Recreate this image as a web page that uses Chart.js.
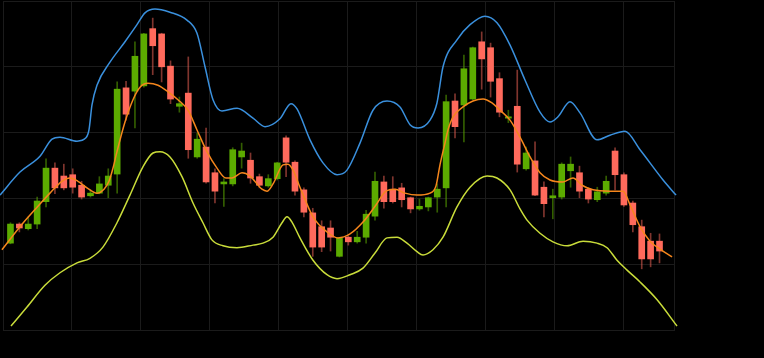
<!DOCTYPE html>
<html>
<head>
<meta charset="utf-8">
<script src="https://cdn.jsdelivr.net/npm/chart.js@4.4.1/dist/chart.umd.min.js"></script>
<style>
  html, body { margin: 0; padding: 0; background: #000; }
</style>
</head>
<body>
<canvas id="chart" width="764" height="358"></canvas>
<script>
// candles, one per trading day (x = 1, 2, 3 ...)
const opens = [113.2,116.1,115.4,116.1,119.5,124.6,123.4,123.6,122.0,120.4,
  120.8,122.0,123.7,136.8,136.3,137.1,145.8,145.0,140.1,134.0,
  136.0,126.3,127.8,123.9,122.2,122.2,126.3,125.8,123.3,121.9,
  123.0,129.2,125.5,121.3,117.8,115.7,115.5,111.2,114.1,113.4,
  114.1,117.3,122.5,121.4,121.6,120.1,118.4,118.7,120.2,121.6,
  134.8,134.2,135.1,143.8,142.9,138.2,132.2,134.0,124.5,125.7,
  121.7,120.1,120.2,124.2,123.9,121.4,119.8,120.8,127.2,123.6,
  119.3,115.7,113.5,113.5];
const highs = [116.3,116.3,117.2,120.2,126.0,125.4,125.2,124.5,122.6,121.3,
  123.3,124.5,137.7,137.8,143.8,145.1,147.4,145.1,140.9,135.4,
  141.5,129.9,130.7,124.5,123.0,127.7,128.4,126.9,123.7,123.6,
  125.5,129.5,125.7,121.6,118.5,116.6,116.6,114.1,114.3,115.0,
  118.2,124.0,123.4,123.3,122.3,120.2,119.9,120.2,122.2,135.7,
  135.9,141.8,143.0,145.3,143.6,139.1,133.4,139.5,127.8,128.6,
  122.5,121.4,125.4,126.3,124.9,121.6,121.7,123.4,127.7,123.9,
  119.6,116.7,114.7,114.6];
const lows = [113.1,114.9,115.2,115.4,118.7,120.7,121.3,120.8,119.9,120.2,
  120.7,120.1,120.8,131.9,130.7,136.9,138.8,137.7,134.4,133.1,
  126.1,126.1,122.3,119.3,118.8,121.9,124.6,122.3,121.6,121.7,
  122.8,123.3,120.5,117.2,111.2,111.9,112.0,111.1,112.9,113.2,
  113.2,116.7,118.5,119.3,118.7,117.8,118.2,118.1,117.9,118.7,
  129.2,128.6,135.0,136.6,135.4,132.4,131.5,124.0,124.3,120.4,
  117.2,116.9,119.9,121.7,120.1,119.3,119.5,120.5,121.3,118.8,
  114.9,109.3,109.6,110.2];
const closes = [116.1,115.5,116.1,119.6,124.6,121.6,121.6,121.7,120.2,120.8,
  122.2,123.4,136.6,132.8,141.6,145.0,143.2,140.0,135.1,134.4,
  127.4,129.0,122.5,121.1,122.5,127.4,127.2,123.1,122.0,123.0,
  125.4,125.5,121.1,117.9,112.6,112.6,114.1,114.0,113.4,114.1,
  117.6,122.6,119.5,119.5,119.8,118.4,118.8,120.1,121.4,134.7,
  130.9,139.7,142.9,141.2,137.8,133.1,132.4,125.2,126.9,120.5,
  119.2,120.4,125.2,125.2,121.1,119.9,121.0,122.6,123.6,119.0,
  116.0,110.8,110.8,112.0];

// bands (x in days)
const upperX = [-0.18,2.07,4.32,5.67,6.57,8.48,9.49,9.83,10.17,10.73,12.19,13.88,15.23,16.13,17.25,18.94,
  20.85,21.98,22.88,23.78,24.79,26.48,28.28,29.63,31.31,32.55,33.23,34.69,36.15,37.73,38.85,40.31,
  41.77,43.35,44.81,45.94,46.84,48.19,48.97,49.65,51.22,52.69,54.37,55.72,57.19,58.87,60.56,61.68,
  62.58,63.93,65.06,66.97,68.43,70.12,71.81,74.40,75.86];
const upperY = [120.5,124.0,126.4,129.0,129.3,128.7,129.2,130.4,134.2,137.2,140.7,143.8,146.4,148.2,148.8,148.3,
  147.1,145.1,140.0,135.0,133.3,133.7,132.2,130.9,132.1,134.4,133.6,128.9,125.4,123.6,124.3,128.4,
  133.4,134.8,133.9,131.2,130.7,131.9,134.5,140.0,144.1,146.4,147.7,146.7,143.3,138.0,133.1,131.6,
  132.4,134.7,133.0,128.9,129.6,130.2,127.4,122.8,120.5];

const middleX = [0.04,2.07,4.09,5.44,6.79,7.69,8.59,9.61,10.73,11.52,12.08,12.53,12.98,13.88,14.78,15.57,
  16.47,17.59,18.72,19.84,20.97,21.98,23.10,24.23,25.24,25.92,27.04,27.94,29.29,29.85,30.53,31.65,
  32.21,32.78,33.56,35.03,36.60,37.84,39.19,40.65,42.11,43.24,44.25,45.37,46.72,48.19,48.86,49.31,
  49.87,50.21,50.78,51.90,53.02,54.15,55.16,56.06,57.19,58.31,59.44,60.56,61.68,63.15,64.27,65.29,
  66.52,68.43,69.90,70.69,71.81,72.93,74.06,75.41];
const middleY = [112.2,115.7,118.8,120.8,122.6,123.1,122.6,121.6,120.8,121.4,122.6,124.6,127.1,131.6,135.0,136.9,
  137.5,137.2,136.2,135.0,133.4,130.4,127.1,124.6,123.1,123.1,123.9,123.4,121.4,121.1,122.2,125.1,
  125.2,124.3,121.7,117.2,114.9,114.0,114.6,116.4,119.0,121.1,121.4,120.8,120.5,120.8,121.9,125.1,
  128.4,130.4,132.4,133.9,134.8,135.1,134.5,133.4,131.9,129.3,126.3,123.9,122.8,122.5,123.1,122.0,
  121.3,121.1,121.1,119.0,115.7,113.5,112.3,111.1];

const lowerX = [1.06,2.86,4.88,6.57,8.48,9.94,11.40,12.98,14.44,15.90,17.03,17.82,18.94,20.29,21.53,22.65,
  23.66,24.90,26.48,28.28,29.40,30.53,31.54,32.10,32.66,33.56,35.03,36.60,37.73,39.19,40.65,42.00,
  43.35,44.48,45.60,46.72,47.40,48.52,49.65,51.22,52.69,54.60,55.72,57.19,58.31,59.10,60.56,62.02,
  63.60,65.40,66.97,68.10,69.22,70.35,71.81,73.73,75.97];
const lowerY = [100.6,103.5,106.8,108.7,110.2,110.9,112.6,116.3,120.5,124.8,126.9,127.1,126.3,123.3,119.3,116.3,
  113.7,112.8,112.5,112.9,113.2,114.1,116.3,117.2,116.4,114.0,110.6,108.4,107.8,108.4,109.4,111.7,
  114.0,114.1,113.2,111.9,111.4,112.2,114.1,118.7,121.7,123.4,123.1,121.3,118.4,116.7,114.7,113.4,
  112.8,113.5,113.2,112.5,110.6,109.1,107.3,104.6,100.6];

const GREEN = "#5cab00", RED = "#ff6a5c";
const days = opens.map((o, i) => i + 1);
const isUp = opens.map((o, i) => closes[i] >= o);

function line(xs, ys, color){
  return {
    type: "line",
    data: xs.map((x, i) => ({ x: x, y: ys[i] })),
    borderColor: color,
    borderWidth: 1.5,
    pointRadius: 0,
    cubicInterpolationMode: "monotone",
    clip: false,
    order: 0
  };
}

new Chart(document.getElementById("chart"), {
  type: "bar",
  data: {
    datasets: [
      {
        // wicks
        data: days.map((d, i) => ({ x: d, y: [lows[i], highs[i]] })),
        backgroundColor: isUp.map(u => u ? "rgba(92,171,0,0.55)" : "rgba(255,106,92,0.5)"),
        barThickness: 1,
        grouped: false,
        order: 3
      },
      {
        // bodies
        data: days.map((d, i) => ({ x: d, y: [opens[i], closes[i]] })),
        backgroundColor: isUp.map(u => u ? GREEN : RED),
        barThickness: 6,
        minBarLength: 1,
        grouped: false,
        order: 2
      },
      line(upperX, upperY, "#3a90dd"),
      line(middleX, middleY, "#f5861c"),
      line(lowerX, lowerY, "#c9dc3a")
    ]
  },
  options: {
    responsive: false,
    animation: false,
    layout: { padding: { left: 3, top: 1, right: 90, bottom: 28 } },
    plugins: { legend: { display: false }, tooltip: { enabled: false } },
    scales: {
      x: {
        type: "linear",
        min: 0.16,
        max: 75.63,
        offset: false,
        afterBuildTicks: axis => {
          const t = [];
          for (let v = axis.min; v < axis.max - 1; v += 7.76) t.push({ value: v });
          t.push({ value: axis.max });
          axis.ticks = t;
        },
        ticks: { display: false },
        grid: { color: "#1b1b1b", drawTicks: false, offset: false },
        border: { color: "#1b1b1b" }
      },
      y: {
        min: 100,
        max: 150,
        ticks: { display: false, stepSize: 10 },
        grid: { color: "#1b1b1b", drawTicks: false },
        border: { color: "#1b1b1b" }
      }
    }
  }
});
</script>
</body>
</html>
